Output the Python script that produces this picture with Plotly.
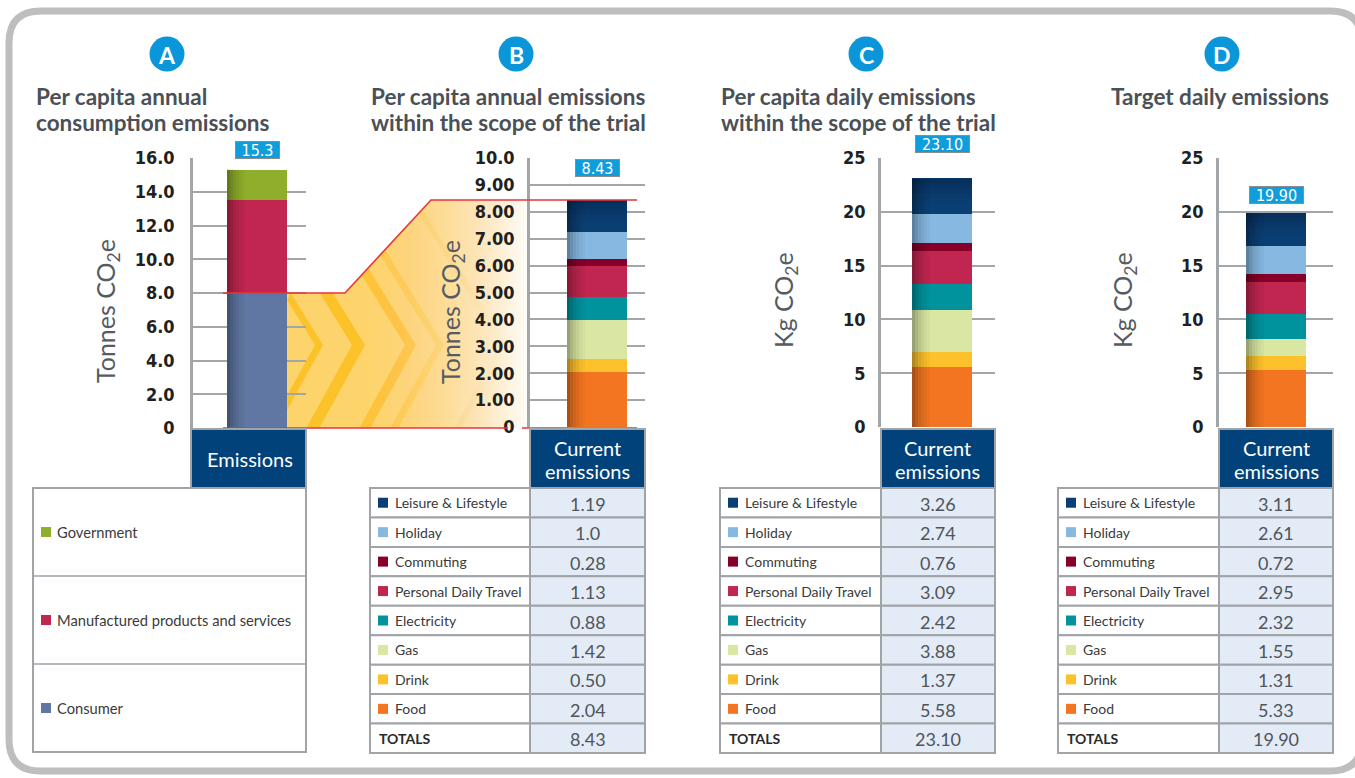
import plotly.graph_objects as go

W, H = 1355, 778

# ---------------- data ----------------
trial_categories = ["Leisure & Lifestyle", "Holiday", "Commuting", "Personal Daily Travel",
                    "Electricity", "Gas", "Drink", "Food"]
trial_colors = ["#0b3f74", "#86b8e2", "#86002a", "#c0264f", "#00939e", "#dae7a2", "#fdc22b", "#f37521"]

annual_values = [1.19, 1.0, 0.28, 1.13, 0.88, 1.42, 0.50, 2.04]
annual_labels = ["1.19", "1.0", "0.28", "1.13", "0.88", "1.42", "0.50", "2.04"]
annual_total = "8.43"

daily_values = [3.26, 2.74, 0.76, 3.09, 2.42, 3.88, 1.37, 5.58]
daily_labels = ["3.26", "2.74", "0.76", "3.09", "2.42", "3.88", "1.37", "5.58"]
daily_total = "23.10"

target_values = [3.11, 2.61, 0.72, 2.95, 2.32, 1.55, 1.31, 5.33]
target_labels = ["3.11", "2.61", "0.72", "2.95", "2.32", "1.55", "1.31", "5.33"]
target_total = "19.90"

consumption_categories = ["Government", "Manufactured products and services", "Consumer"]
consumption_colors = ["#8fae2b", "#c0264f", "#5f77a2"]
consumption_values = [1.8, 5.5, 8.0]
consumption_total = "15.3"

ticks_A = [0, 2, 4, 6, 8, 10, 12, 14, 16]
ticktext_A = ["0", "2.0", "4.0", "6.0", "8.0", "10.0", "12.0", "14.0", "16.0"]
ticks_B = [0, 1, 2, 3, 4, 5, 6, 7, 8, 9, 10]
ticktext_B = ["0", "1.00", "2.00", "3.00", "4.00", "5.00", "6.00", "7.00", "8.00", "9.00", "10.0"]
ticks_CD = [0, 5, 10, 15, 20, 25]
ticktext_CD = ["0", "5", "10", "15", "20", "25"]

panel_letters = ["A", "B", "C", "D"]
panel_titles = [["Per capita annual", "consumption emissions"],
                ["Per capita annual emissions", "within the scope of the trial"],
                ["Per capita daily emissions", "within the scope of the trial"],
                ["Target daily emissions"]]
axis_titles = ["Tonnes CO<sub>2</sub>e", "Tonnes CO<sub>2</sub>e", "Kg CO<sub>2</sub>e", "Kg CO<sub>2</sub>e"]
header_texts = [["Emissions"], ["Current", "emissions"], ["Current", "emissions"], ["Current", "emissions"]]
totals_text = "TOTALS"

# ---------------- styling / layout geometry (pixels) ----------------
FONT = "Lato, 'Open Sans', sans-serif"
NARROW = "'Liberation Sans Narrow', 'DejaVu Sans Condensed', Roboto, sans-serif"
TITLE_C = "#4b5056"
GRID = "#a3a6a9"
NAVY = "#01427b"
BLUE = "#0a96d8"
CELL_BLUE = "#e3ebf6"
BORDER = "#a0a3a7"
BAR_W = 60

G = [
    dict(x0=193, x1=306, ybot=428, ytop=158, ymax=16, bar=257, circ=167, tx=35, ylab=(107, 311),
         tab=33, ticks=ticks_A, tt=ticktext_A, shift=12, stand=12),
    dict(x0=530, x1=645, ybot=427, ytop=158, ymax=10, bar=597, circ=516, tx=370, ylab=(452, 312),
         tab=370, ticks=ticks_B, tt=ticktext_B, shift=24, stand=9),
    dict(x0=881, x1=995, ybot=427, ytop=158, ymax=25, bar=942, circ=866, tx=720, ylab=(785, 300),
         tab=720, ticks=ticks_CD, tt=ticktext_CD, shift=26, stand=9),
    dict(x0=1219, x1=1333, ybot=427, ytop=158, ymax=25, bar=1276, circ=1222, tx=1110, ylab=(1124, 300),
         tab=1058, ticks=ticks_CD, tt=ticktext_CD, shift=10, stand=9),
]


def fx(p):
    return p / W


def fy(p):
    return 1 - p / H


def ypx(g, v):
    return g["ybot"] - (g["ybot"] - g["ytop"]) * v / g["ymax"]


shapes = []
annotations = []


def rect(px0, py0, px1, py1, fill, line_color=None, lw=0, layer="above"):
    shapes.append(dict(type="rect", xref="paper", yref="paper",
                       x0=fx(px0), x1=fx(px1), y0=fy(py1), y1=fy(py0),
                       fillcolor=fill, line=dict(color=line_color or "rgba(0,0,0,0)", width=lw),
                       layer=layer))


def pathstr(points, close=True):
    s = "M " + " L ".join(f"{fx(x):.6f},{fy(y):.6f}" for x, y in points)
    return s + (" Z" if close else "")


def poly(points, fill, layer="below"):
    shapes.append(dict(type="path", xref="paper", yref="paper", path=pathstr(points),
                       fillcolor=fill, line=dict(color="rgba(0,0,0,0)", width=0), layer=layer))


def polyline(points, color, width, layer="above"):
    shapes.append(dict(type="path", xref="paper", yref="paper", path=pathstr(points, False),
                       fillcolor="rgba(0,0,0,0)", line=dict(color=color, width=width), layer=layer))


def text(px, py, s, size, color, xanchor="left", family=FONT, weight="normal", **kw):
    annotations.append(dict(xref="paper", yref="paper", x=fx(px), y=fy(py), text=s, showarrow=False,
                            xanchor=xanchor, yanchor="middle",
                            font=dict(family=family, size=size, color=color, weight=weight), **kw))


fig = go.Figure()

# ---------------- frame ----------------
r = 32
fx0, fy0, fx1, fy1 = 9, 11, 1362, 771
frame = (f"M {fx(fx0)},{fy(fy0 + r)} Q {fx(fx0)},{fy(fy0)} {fx(fx0 + r)},{fy(fy0)} "
         f"L {fx(fx1 - r)},{fy(fy0)} Q {fx(fx1)},{fy(fy0)} {fx(fx1)},{fy(fy0 + r)} "
         f"L {fx(fx1)},{fy(fy1 - r)} Q {fx(fx1)},{fy(fy1)} {fx(fx1 - r)},{fy(fy1)} "
         f"L {fx(fx0 + r)},{fy(fy1)} Q {fx(fx0)},{fy(fy1)} {fx(fx0)},{fy(fy1 - r)} Z")
shapes.append(dict(type="path", xref="paper", yref="paper", path=frame, fillcolor="white",
                   line=dict(color="#bdbec0", width=7), layer="below"))

# ---------------- axes & bars ----------------
axes = {}
panel_series = [
    (consumption_values, consumption_colors, consumption_categories, consumption_total),
    (annual_values, trial_colors, trial_categories, annual_total),
    (daily_values, trial_colors, trial_categories, daily_total),
    (target_values, trial_colors, trial_categories, target_total),
]
for i, g in enumerate(G):
    n = "" if i == 0 else str(i + 1)
    xr = [-(g["bar"] - g["x0"]) / BAR_W, (g["x1"] - g["bar"]) / BAR_W]
    axes["xaxis" + n] = dict(domain=[fx(g["x0"]), fx(g["x1"])], range=xr, visible=False,
                             anchor="y" + n, fixedrange=True, automargin=False)
    axes["yaxis" + n] = dict(domain=[fy(g["ybot"]), fy(g["ytop"])], range=[0, g["ymax"]],
                             anchor="x" + n, tickvals=g["ticks"], ticktext=g["tt"],
                             showgrid=True, gridcolor=GRID, gridwidth=1.6, showline=True,
                             linecolor=GRID, linewidth=2.5, zeroline=False, ticks="",
                             ticklabelstandoff=g["stand"], fixedrange=True, automargin=False,
                             tickfont=dict(family=NARROW, size=18, color="#231f20", weight="bold"))
    vals, cols, cats, tot = panel_series[i]
    for v, c, name in zip(vals[::-1], cols[::-1], cats[::-1]):
        fig.add_trace(go.Bar(x=[0], y=[v], width=1, name=name, marker=dict(color=c, line=dict(width=0)),
                             xaxis="x" + n, yaxis="y" + n, showlegend=False, hoverinfo="name+y"))
    total = sum(vals)
    # darker top of the uppermost segment (gradient look) for the trial bars
    if i > 0:
        top_seg = vals[0]
        for k, a in enumerate([0.28, 0.2, 0.13, 0.07, 0.03]):
            shapes.append(dict(type="rect", xref="x" + n, yref="y" + n, x0=-0.5, x1=0.5,
                               y0=total - top_seg * (k + 1) / 7, y1=total - top_seg * k / 7,
                               fillcolor=f"rgba(0,10,30,{a})", line=dict(width=0), layer="above"))
    # left-edge shading of the bar (3D look)
    for k, a in enumerate([0.30, 0.22, 0.15, 0.10, 0.06, 0.03]):
        shapes.append(dict(type="rect", xref="x" + n, yref="y" + n,
                           x0=-0.5 + k * 0.05, x1=-0.5 + (k + 1) * 0.05, y0=0, y1=total,
                           fillcolor=f"rgba(0,0,0,{a})", line=dict(width=0), layer="above"))
    # total value box
    annotations.append(dict(xref="x" + n, yref="y" + n, x=0, y=total, yshift=g["shift"] + 8,
                            text=tot, showarrow=False, xanchor="center", yanchor="middle",
                            bgcolor="#0f9ddc", bordercolor="#8a8d90", borderwidth=1, borderpad=0,
                            width=10 * len(tot) + 3, height=16,
                            font=dict(family=NARROW, size=16, color="white")))

# ---------------- funnel between A and B ----------------
gA, gB = G[0], G[1]
a_left = gA["bar"] - BAR_W / 2
a_right = gA["bar"] + BAR_W / 2
top_l = ypx(gA, consumption_values[2])
top_r = ypx(gB, sum(annual_values))
f_bot = gA["ybot"]
knee, ramp, f_right = 345, 431, 528


def top_at(x):
    if x <= knee:
        return top_l
    if x >= ramp:
        return top_r
    return top_l + (top_r - top_l) * (x - knee) / (ramp - knee)


poly([(a_right, top_l), (knee, top_l), (ramp, top_r), (f_right, top_r), (f_right, f_bot), (a_right, f_bot)],
     "#fdd46c")


def inside(x, y):
    return a_right - 0.01 <= x <= f_right and top_at(x) - 0.01 <= y <= f_bot + 0.01


def arm_end(ax, ay, dx, dy):
    t = 0.0
    while inside(ax + dx * (t + 0.5), ay + dy * (t + 0.5)) and t < 400:
        t += 0.5
    return (ax + dx * t, ay + dy * t)


apex_y = 345
chevrons = [(315, 8, "rgba(252,190,30,0.85)"), (352, 13, "rgba(252,190,30,0.85)"),
            (405, 11, "rgba(252,190,40,0.75)"), (436, 8, "rgba(252,195,50,0.6)"),
            (500, 7, "rgba(252,200,70,0.5)")]
for ax, w, col in chevrons:
    up1 = arm_end(ax, apex_y, -0.62, -1)
    dn1 = arm_end(ax, apex_y, -0.55, 1)
    up2 = arm_end(ax + w, apex_y, -0.62, -1)
    dn2 = arm_end(ax + w, apex_y, -0.55, 1)
    pts = [up1, (ax, apex_y), dn1, dn2, (ax + w, apex_y), up2]
    pts = [(max(x, a_right), y) for x, y in pts]
    poly(pts, col)

# white fade towards panel B
x_start = 365
prev = 0.0
for x in range(x_start, f_right, 4):
    w_t = min(0.97 * ((x + 4 - x_start) / (f_right - x_start)) ** 1.5, 0.97)
    a = 1 - (1 - w_t) / (1 - prev)
    prev = w_t
    if x < ramp:
        pts = [(x, top_at(x)), (ramp, top_r), (f_right, top_r), (f_right, f_bot), (x, f_bot)]
    else:
        pts = [(x, top_r), (f_right, top_r), (f_right, f_bot), (x, f_bot)]
    poly(pts, f"rgba(255,255,255,{max(a, 0):.3f})")

RED = "#e8343c"
polyline([(a_left - 4, top_l), (knee, top_l), (ramp, top_r), (gB["bar"] + BAR_W / 2 + 10, top_r)], RED, 1.6)
polyline([(a_left - 4, f_bot), (508, f_bot)], RED, 1.6)
polyline([(522, f_bot), (gB["bar"] + BAR_W / 2 + 10, f_bot)], RED, 1.6)

# ---------------- headers, titles, axis titles ----------------
for i, g in enumerate(G):
    c = g["circ"]
    shapes.append(dict(type="circle", xref="paper", yref="paper", x0=fx(c - 17.5), x1=fx(c + 17.5),
                       y0=fy(54 + 17.5), y1=fy(54 - 17.5), fillcolor=BLUE, line=dict(width=0), layer="above"))
    text(c, 55, panel_letters[i], 23, "white", xanchor="center", weight="bold")
    for j, line in enumerate(panel_titles[i]):
        text(g["tx"] - 1, 96.5 + 25.5 * j, line, 22.5, TITLE_C, weight="bold")
    text(g["ylab"][0], g["ylab"][1], axis_titles[i], 25, "#565b61", xanchor="center", textangle=-90)
    # header box
    rect(g["x0"] - (2 if i == 0 else 0), 429, g["x1"], 488, NAVY, BORDER, 2)
    hc = (g["x0"] + g["x1"]) / 2
    hl = header_texts[i]
    if len(hl) == 1:
        text(hc, 459, hl[0], 20, "white", xanchor="center")
    else:
        text(hc, 448, hl[0], 20, "white", xanchor="center")
        text(hc, 471, hl[1], 20, "white", xanchor="center")

# ---------------- table A (legend) ----------------
gA = G[0]
rowsA = len(consumption_categories)
RA = 88
rect(gA["tab"], 488, gA["x1"], 488 + RA * rowsA, "white", BORDER, 2)
for k, (name, col) in enumerate(zip(consumption_categories, consumption_colors)):
    y0 = 488 + k * RA
    if k > 0:
        polyline([(gA["tab"], y0), (gA["x1"], y0)], BORDER, 1.5)
    yc = y0 + RA / 2
    rect(gA["tab"] + 8, yc - 5, gA["tab"] + 18, yc + 5, col)
    text(gA["tab"] + 22, yc, name, 14.7, "#3a3a3a")

# ---------------- tables B, C, D ----------------
RH = (753 - 488) / 9
table_data = [(annual_labels, annual_total), (daily_labels, daily_total), (target_labels, target_total)]
for t, (labels, tot) in enumerate(table_data):
    g = G[t + 1]
    xl, xs, xr = g["tab"], g["x0"], g["x1"]
    rows = list(zip(trial_categories, trial_colors, labels)) + [(totals_text, None, tot)]
    for k, (name, col, val) in enumerate(rows):
        y0 = 488 + k * RH
        y1 = y0 + RH
        yc = (y0 + y1) / 2
        rect(xl, y0, xs, y1, "white", BORDER, 2)
        rect(xs, y0, xr, y1, CELL_BLUE, BORDER, 2)
        if col is None:
            text(xl + 7, yc, f"<b>{name}</b>", 14, "#2a2a2a")
        else:
            rect(xl + 8, yc - 5, xl + 18, yc + 5, col)
            text(xl + 23, yc, name, 14, "#3a3a3a")
        text((xs + xr) / 2, yc + 1, val, 18, "#50555b", xanchor="center")

fig.update_layout(
    template="none",
    width=W, height=H, margin=dict(l=0, r=0, t=0, b=0, pad=0, autoexpand=False),
    paper_bgcolor="white", plot_bgcolor="rgba(0,0,0,0)",
    barmode="stack", bargap=0, showlegend=False,
    shapes=shapes, annotations=annotations, font=dict(family=FONT),
    **axes,
)

fig.write_html("out.html", config={"displayModeBar": False},
               post_script="document.body.style.margin='0';document.body.style.overflow='hidden';")
